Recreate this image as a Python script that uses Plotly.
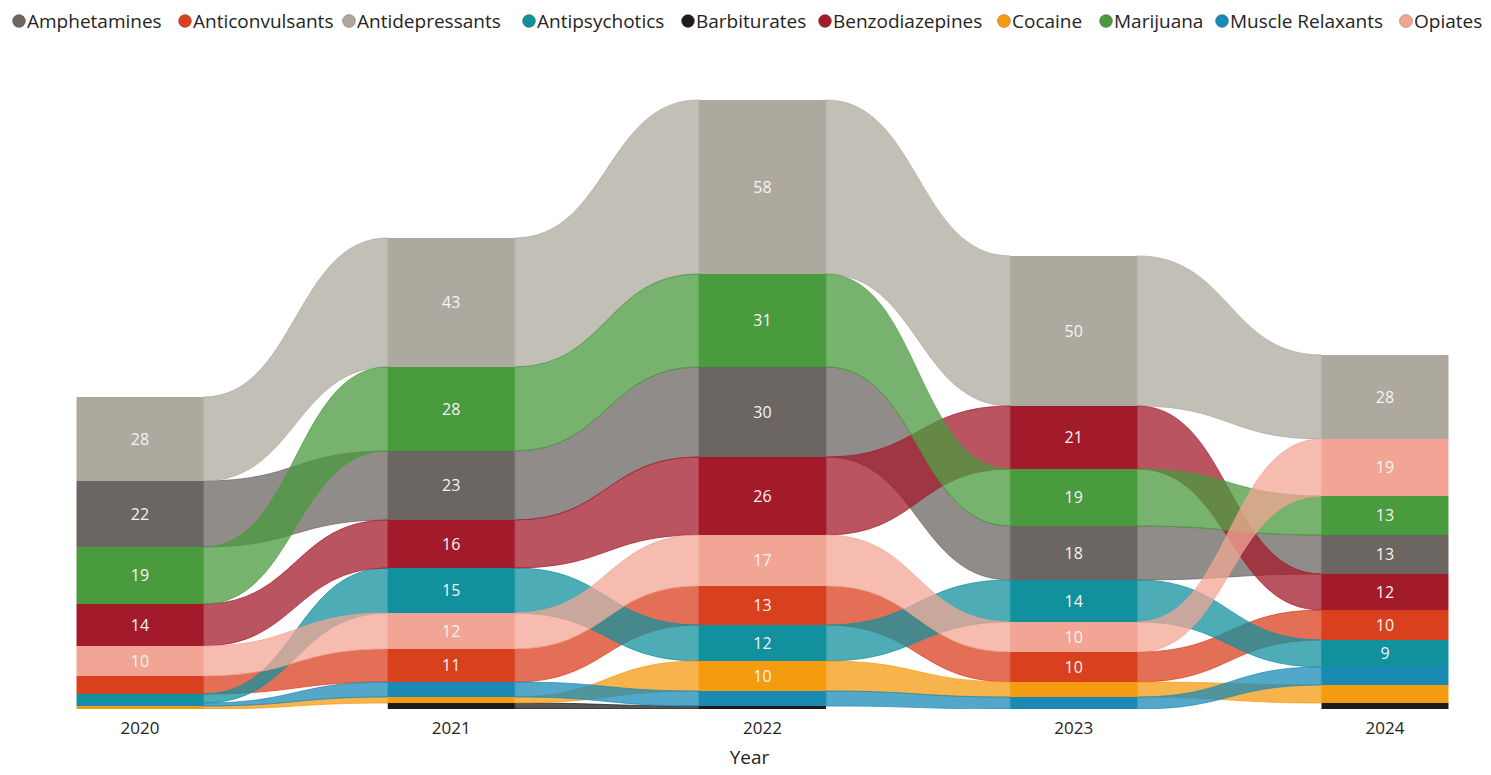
import plotly.graph_objects as go

# ---- data ----
years = [2020, 2021, 2022, 2023, 2024]
amphetamines = [22, 23, 30, 18, 13]
anticonvulsants = [6, 11, 13, 10, 10]
antidepressants = [28, 43, 58, 50, 28]
antipsychotics = [3, 15, 12, 14, 9]
barbiturates = [0, 2, 1, 0, 2]
benzodiazepines = [14, 16, 26, 21, 12]
cocaine = [1, 2, 10, 5, 6]
marijuana = [19, 28, 31, 19, 13]
muscle_relaxants = [1, 5, 5, 4, 6]
opiates = [10, 12, 17, 10, 19]

names = ["Amphetamines", "Anticonvulsants", "Antidepressants", "Antipsychotics", "Barbiturates",
         "Benzodiazepines", "Cocaine", "Marijuana", "Muscle Relaxants", "Opiates"]
series = [amphetamines, anticonvulsants, antidepressants, antipsychotics, barbiturates,
          benzodiazepines, cocaine, marijuana, muscle_relaxants, opiates]
colors = ["#6b6662", "#d9401e", "#aea99f", "#11909e", "#1c1c1c",
          "#a31b2b", "#f59b10", "#4a9a3e", "#1a8ab5", "#f2a594"]

INK = "#252423"
W = 0.408          # column width (x units)
ALPHA = 0.75       # ribbon transparency
# page body keeps its default 8px margin, so the figure is 16px smaller than the window
WIDTH, HEIGHT = 1483, 767
MT, MB = 31, 66
# legend row: x of each marker centre (px in figure), one per series
LEG_X = [11, 177, 341, 521, 680, 817, 996, 1098, 1214, 1398]
LEG_Y = 13


def rgba(hx, a):
    hx = hx.lstrip("#")
    r, g, b = int(hx[0:2], 16), int(hx[2:4], 16), int(hx[4:6], 16)
    return f"rgba({r},{g},{b},{a})"


# ---- stacking: per year, largest on top (ties: later legend item on top) ----
n = len(series)
bases = [[0] * len(years) for _ in range(n)]
for j in range(len(years)):
    order = sorted(range(n), key=lambda k: (series[k][j], k))   # smallest first = bottom
    acc = 0
    for k in order:
        bases[k][j] = acc
        acc += series[k][j]

fig = go.Figure()

# ribbons between columns (bezier bands), drawn in legend order
shapes = []
for k in range(n):
    v, b = series[k], bases[k]
    for j in range(len(years) - 1):
        if v[j] <= 0 or v[j + 1] <= 0:
            continue
        x0 = years[j] + W / 2
        x1 = years[j + 1] - W / 2
        xm = (x0 + x1) / 2
        t0, b0 = b[j] + v[j], b[j]
        t1, b1 = b[j + 1] + v[j + 1], b[j + 1]
        path = (f"M {x0},{t0} C {xm},{t0} {xm},{t1} {x1},{t1} "
                f"L {x1},{b1} C {xm},{b1} {xm},{b0} {x0},{b0} Z")
        shapes.append(dict(type="path", path=path, xref="x", yref="y", layer="below",
                           fillcolor=rgba(colors[k], ALPHA),
                           line=dict(color=rgba(colors[k], 0.9), width=0.8)))

# columns
for k in range(n):
    labels = [str(v) if v >= 9 else "" for v in series[k]]
    fig.add_bar(x=years, y=series[k], base=bases[k], width=W, name=names[k],
                marker=dict(color=colors[k], line=dict(width=0)), showlegend=False,
                text=labels, textposition="inside", insidetextanchor="middle",
                textangle=0, textfont=dict(color="#f4f4f4", size=16),
                hovertemplate=names[k] + "<br>%{x}: %{y}<extra></extra>")

# legend row (circle + name), laid out like the Power BI header
plot_h = HEIGHT - MT - MB
ly = 1 + (MT - LEG_Y) / plot_h
annotations = []
for k in range(n):
    xc = LEG_X[k] / WIDTH
    shapes.append(dict(type="circle", xref="paper", yref="paper", xsizemode="pixel",
                       ysizemode="pixel", xanchor=xc, yanchor=ly, x0=-6.5, x1=6.5,
                       y0=-6.5, y1=6.5, fillcolor=colors[k],
                       line=dict(color="rgba(40,40,40,0.35)", width=0.8)))
    annotations.append(dict(text=names[k], xref="paper", yref="paper",
                            x=(LEG_X[k] + 6) / WIDTH, y=ly, xanchor="left", yanchor="middle",
                            showarrow=False, font=dict(size=19, color=INK)))

fig.update_layout(
    width=WIDTH, height=HEIGHT,
    paper_bgcolor="white", plot_bgcolor="white",
    font=dict(family="Open Sans, sans-serif", color=INK),
    barmode="overlay", shapes=shapes, annotations=annotations, showlegend=False,
    uniformtext=dict(minsize=16, mode="show"),
    margin=dict(l=0, r=0, t=MT, b=MB),
    xaxis=dict(range=[2020 - 0.4241, 2024 + 0.3406], tickvals=years,
               ticktext=[str(y) for y in years], showgrid=False, zeroline=False,
               showline=False, ticks="", ticklabelstandoff=7,
               tickfont=dict(size=17, color=INK),
               title=dict(text="Year", font=dict(size=19, color=INK), standoff=12)),
    yaxis=dict(range=[0, 223.3], visible=False, showgrid=False, zeroline=False),
)

fig.write_html("out.html")
